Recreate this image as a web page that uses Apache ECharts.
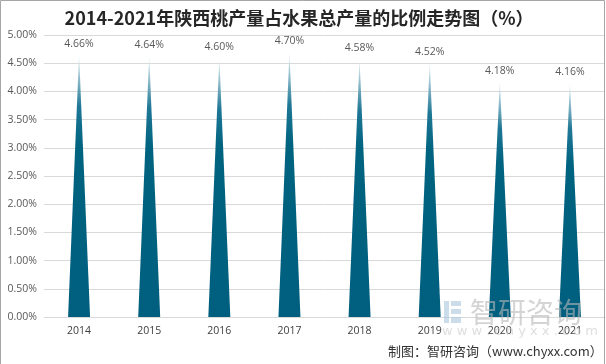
<!DOCTYPE html>
<html>
<head>
<meta charset="utf-8">
<script src="https://cdn.jsdelivr.net/npm/echarts@6/dist/echarts.min.js"></script>
<style>
html,body{margin:0;padding:0;background:#fff;}
#c{width:606px;height:364px;}
</style>
</head>
<body>
<div id="c"></div>
<script>
const categories = ['2014','2015','2016','2017','2018','2019','2020','2021'];
const shares = [4.66, 4.64, 4.60, 4.70, 4.58, 4.52, 4.18, 4.16];
const titleText = '2014-2021年陕西桃产量占水果总产量的比例走势图（%）';
const sourceText = '制图：智研咨询（www.chyxx.com）';

const chart = echarts.init(document.getElementById('c'), null, {renderer:'canvas'});
const lab = {color:'#595959', fontSize:10.5, fontFamily:'Open Sans'};
chart.setOption({
  animation:false,
  backgroundColor:'#fff',
  grid:{left:44, right:1, top:35, bottom:47},
  xAxis:{
    type:'category', data:categories, boundaryGap:true,
    axisLine:{show:true, lineStyle:{color:'#d9d9d9'}},
    axisTick:{show:false},
    axisLabel:{color:'#404040', fontSize:10.5, fontFamily:'Open Sans', margin:9}
  },
  yAxis:{
    type:'value', min:0, max:5, interval:0.5,
    axisLine:{show:false}, axisTick:{show:false},
    splitLine:{lineStyle:{color:'#d9d9d9'}},
    axisLabel:Object.assign({margin:7, formatter:v=>v.toFixed(2)+'%'}, lab)
  },
  series:[{
    type:'pictorialBar',
    symbol:'triangle',
    symbolSize:[22,'100%'],
    data:shares,
    z:3,
    itemStyle:{
      color:new echarts.graphic.LinearGradient(0,0,0,1,[
        {offset:0, color:'#f2f7f9'},
        {offset:0.08, color:'#9cc3d1'},
        {offset:0.2, color:'#1f7796'},
        {offset:0.35, color:'#00637f'},
        {offset:1, color:'#005f7f'}
      ])
    },
    label:Object.assign({show:true, position:'top', distance:5, formatter:p=>p.value.toFixed(2)+'%'}, lab)
  }],
  graphic:[
    {type:'rect', shape:{x:0.5,y:0.5,width:604,height:380}, style:{fill:'none', stroke:'#a6a6a6', lineWidth:1}, z:10},
    {type:'text', x:299, y:9, style:{text:titleText, textAlign:'center', font:'bold 18px "Noto Sans CJK SC"', fill:'#262626'}, z:10},
    {type:'rect', shape:{x:444,y:301,width:5,height:22}, style:{fill:'#a9c4dc', opacity:0.6}, z:10},
    {type:'rect', shape:{x:451,y:301,width:10,height:5}, style:{fill:'#a9c4dc', opacity:0.6}, z:10},
    {type:'rect', shape:{x:451,y:309,width:10,height:5}, style:{fill:'#a9c4dc', opacity:0.6}, z:10},
    {type:'rect', shape:{x:451,y:317,width:10,height:6}, style:{fill:'#a9c4dc', opacity:0.6}, z:10},
    {type:'text', x:470, y:298, style:{text:'智研咨询', font:'28px "Noto Sans CJK SC"', fill:'#b8b8b8', opacity:0.6}, z:10},
    {type:'text', x:442, y:325, style:{text:'w w w . c h y x x . c o m', font:'13px "DejaVu Sans"', fill:'#c8c8c8', opacity:0.6}, z:10},
    {type:'text', x:388, y:345, style:{text:sourceText, font:'13px "Noto Sans CJK SC"', fill:'#333333'}, z:10}
  ]
});
</script>
</body>
</html>
